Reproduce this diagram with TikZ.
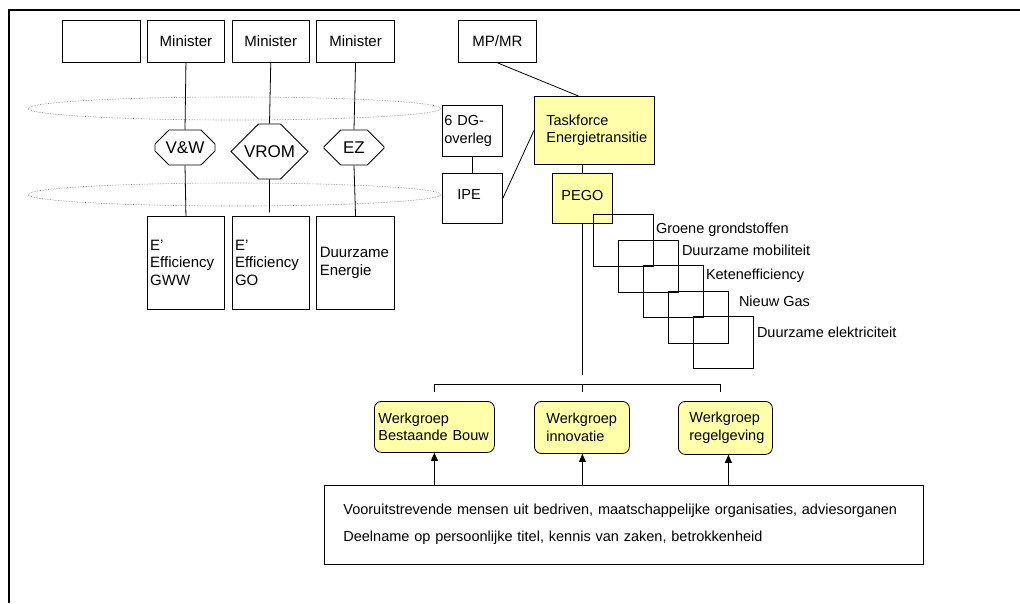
\documentclass[tikz,border=0pt]{standalone}
\usepackage{fontspec}
\setmainfont{Liberation Sans}
\usetikzlibrary{arrows.meta,positioning,shapes.misc}
\definecolor{taskyellow}{RGB}{255,255,170}
\tikzset{
x=1pt, y=-1pt,
>={Triangle[length=8pt,width=7pt]}, % filled arrow heads
box/.style={draw, line width=0.8pt, inner sep=3pt, minimum width=77.5pt, minimum height=42pt, font=\fontsize{15}{17.5}\selectfont},
tall/.style={box, minimum height=93pt, text width=71.5pt, align=left},
small/.style={draw, line width=0.8pt, anchor=north west, font=\fontsize{14.5}{17.5}\selectfont},
yel/.style={small, fill=taskyellow},
werk/.style={yel, rounded corners=7pt, minimum height=51pt, align=left},
hexa/.style={draw, line width=0.8pt, chamfered rectangle, inner sep=0pt, font=\fontsize{17}{20}\selectfont},
ring/.style={densely dotted, gray, line width=0.6pt},
link/.style={line width=0.8pt},
}

\begin{document}
\begin{tikzpicture}
		\useasboundingbox (0,0) rectangle (1020,603);
		\draw[line width=2.2pt] (8.7,603) -- (8.7,10) -- (1020,10);
		% ministries
		\node[box, anchor=north west] (blank) at (62,20) {};
		\node[box, right=6.5pt of blank] (m1) {Minister};
		\node[box, right=6.5pt of m1] (m2) {Minister};
		\node[box, right=6.5pt of m2] (m3) {Minister};
		\node[tall, below=153pt of m1] (b1) {E'\\Efficiency\\GWW};
		\node[tall, below=153pt of m2] (b2) {E'\\Efficiency\\GO};
		\node[tall, below=153pt of m3] (b3) {Duurzame\\Energie};
		\draw[ring] (234.5,108.5) ellipse [x radius=206.5pt, y radius=11.5pt];
		\draw[ring] (234.5,194.5) ellipse [x radius=206.5pt, y radius=11.5pt];
		\node[hexa, minimum width=60pt, minimum height=35pt, chamfered rectangle xsep=12pt, chamfered rectangle ysep=8pt] (vw) at (185,147.5) {V\&W};
		\node[hexa, minimum width=77pt, minimum height=43pt, chamfered rectangle xsep=19pt, chamfered rectangle ysep=21.5pt] (vrom) at (269.5,151.5) {VROM};
		\node[hexa, minimum width=60pt, minimum height=35pt, chamfered rectangle xsep=13pt, chamfered rectangle ysep=17.5pt] (ez) at (354,147.5) {EZ};
		\draw[link] (m1.south) -- (vw.north) (vw.south) -- (b1.north);
		\draw[link] (m2.south) -- (vrom.north) (vrom.south) -- ++(0,33);
		\draw[link] (m3.south) -- (ez.north) (ez.south) -- (b3.north);
		% taskforce
		\node[box, anchor=north west, minimum width=78pt] (mpmr) at (458,20) {MP/MR};
		\node[small, minimum width=60pt, minimum height=51pt, inner sep=2pt, text width=56pt, align=left] (dg) at (442,105) {6 DG-\\overleg};
		\node[small, minimum width=60pt, minimum height=50pt, inner sep=0pt, text width=50pt, text depth=8pt, align=left, xshift=0pt] (ipe) at (442,173) {\hspace*{10pt}IPE};
		\node[yel, minimum width=120pt, minimum height=68pt, inner sep=12pt, text width=96pt, align=left] (task) at (534,96) {Taskforce\\Energietransitie};
		\node[yel, minimum width=60pt, minimum height=50pt, inner sep=0pt, text depth=6pt] (pego) at (552,173) {PEGO};
		\draw[link] (mpmr.south) -- ([xshift=-16pt]task.north);
		\draw[link] (dg.south) -- (ipe.north);
		\draw[link] (ipe.east) -- (task.west);
		\draw[link] (pego.north |- task.south) -- (pego.north);
		\draw[link] (pego.south) -- ++(0,151);
		% transition paths
		\foreach \i/\dx/\dy/\txt in {0/2/16/Groene grondstoffen, 1/3/11/Duurzame mobiliteit, 2/2/11/Ketenefficiency, 3/10/11/Nieuw Gas, 4/3/16/Duurzame elektriciteit}{
			\node[draw, line width=0.8pt, anchor=north west, minimum width=60pt, minimum height=52pt] (sq\i) at (593+25*\i,214+25.5*\i) {};
			\node[anchor=west, inner sep=0pt, font=\fontsize{14.5}{17.5}\selectfont] (lbl\i) at ([xshift=\dx pt, yshift=-\dy pt]sq\i.north east) {\txt};
		}
		% werkgroepen
		\node[werk, minimum width=120pt, inner sep=4pt, text width=112pt] (wg1) at (374,401) {Werkgroep\\Bestaande Bouw};
		\node[werk, minimum width=95pt, inner sep=12pt, text width=71pt] (wg2) at (534,401) {Werkgroep\\innovatie};
		\node[werk, minimum width=94pt, inner sep=11pt, text width=72pt] (wg3) at (678,401) {Werkgroep\\regelgeving};
		\draw[link] ([yshift=9pt]wg1.north) |- ([yshift=17pt,xshift=-5pt]wg3.north);
		\draw[link] ([yshift=17pt]wg2.north -| pego.south) -- ++(0,8);
		\draw[link] ([yshift=17pt,xshift=-5pt]wg3.north) -- ++(0,8);
		\node[small, minimum width=599pt, minimum height=67pt, inner sep=19pt, text width=561pt, align=left, font=\fontsize{14.5}{27}\selectfont] (mensen) at (324,485) {Vooruitstrevende mensen uit bedriven, maatschappelijke organisaties, adviesorganen\\Deelname op persoonlijke titel, kennis van zaken, betrokkenheid};
		\draw[link, ->] (wg1.south |- mensen.north) -- (wg1.south);
		\draw[link, ->] (pego.south |- mensen.north) -- (wg2.south -| pego.south);
		\draw[link, ->] ([xshift=3pt]wg3.south |- mensen.north) -- ([xshift=3pt]wg3.south);
	\end{tikzpicture}
\end{document}
